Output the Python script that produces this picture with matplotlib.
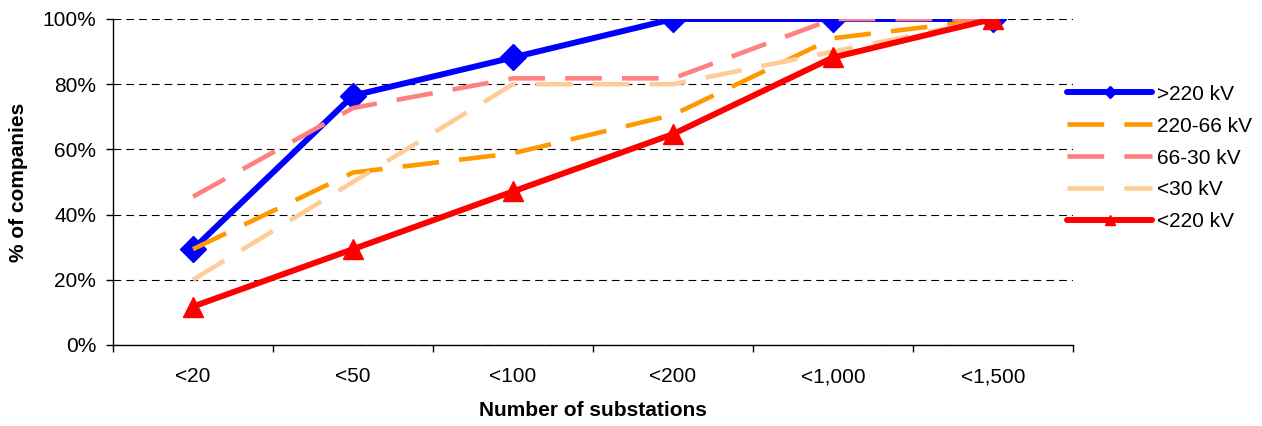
import numpy as np
import matplotlib
matplotlib.use("Agg")
import matplotlib.pyplot as plt
from matplotlib.ticker import FixedLocator, NullFormatter

plt.rcParams['font.family'] = ['Liberation Sans', 'DejaVu Sans']

categories = ["<20", "<50", "<100", "<200", "<1,000", "<1,500"]
series_names = [">220 kV", "220-66 kV", "66-30 kV", "<30 kV", "<220 kV"]
above_220 = [29.4, 76.5, 88.2, 100.0, 100.0, 100.0]
kv_220_66 = [29.4, 52.9, 58.8, 70.6, 94.1, 100.0]
kv_66_30 = [45.5, 72.7, 81.8, 81.8, 100.0, 100.0]
below_30 = [20.0, 50.0, 80.0, 80.0, 90.0, 100.0]
below_220 = [11.8, 29.4, 47.1, 64.7, 88.2, 100.0]
y_ticks = [0, 20, 40, 60, 80, 100]

fs = 15

fig = plt.figure(figsize=(12.62, 4.26), dpi=100)
ax = fig.add_axes([113/1262, 81/426, 960/1262, 326/426])

x = np.arange(len(categories))

dash = (8.0, 4.4)
ax.plot(x, above_220, color="#0000FF", lw=4.3, marker="D", ms=13,
        mec="#0000FF", label=series_names[0], zorder=3, solid_capstyle="round")
ax.plot(x, kv_220_66, color="#FF9900", lw=3.3, dashes=dash,
        label=series_names[1], zorder=3)
ax.plot(x, kv_66_30, color="#FF8080", lw=3.3, dashes=dash,
        label=series_names[2], zorder=3)
ax.plot(x, below_30, color="#FFCC99", lw=3.3, dashes=dash,
        label=series_names[3], zorder=3)
ax.plot(x, below_220, color="#FF0000", lw=4.3, marker="^", ms=14,
        mec="#FF0000", label=series_names[4], zorder=3, solid_capstyle="round")

ax.set_xlim(-0.5, len(categories) - 0.5)
ax.set_ylim(0, 100)
ax.set_yticks(y_ticks)
ax.set_yticklabels([f"{v}%" for v in y_ticks])
ax.yaxis.grid(True, color="black", lw=0.8, dashes=(7, 4.5))
ax.set_axisbelow(True)

# category boundaries carry the tick marks, labels sit at the centres
ax.xaxis.set_major_locator(FixedLocator(np.arange(-0.5, len(categories))))
ax.xaxis.set_major_formatter(NullFormatter())
ax.xaxis.set_minor_locator(FixedLocator(x))
ax.set_xticklabels(categories, minor=True)
ax.tick_params(axis="x", which="major", length=5, width=1, direction="out")
ax.tick_params(axis="x", which="minor", length=0, pad=16, labelsize=fs)
ax.tick_params(axis="y", length=5, width=1, pad=7, labelsize=fs)

for side in ("top", "right"):
    ax.spines[side].set_visible(False)
for side in ("left", "bottom"):
    ax.spines[side].set_linewidth(1)
    ax.spines[side].set_color("black")

fig.text(19/1262, 1 - 182/426, "% of companies", rotation=90, ha="center",
         va="center", fontsize=fs, fontweight="bold")
fig.text(593/1262, 1 - 411/426, "Number of substations", ha="center",
         va="center", fontsize=fs, fontweight="bold")

fig.legend(loc="center left", bbox_to_anchor=(1067/1262, 1 - 158/426),
           frameon=False, fontsize=fs, handlelength=4.1, handletextpad=0.2,
           labelspacing=0.62, borderpad=0, borderaxespad=0, markerscale=0.5)

fig.savefig("out.png", dpi=100)
